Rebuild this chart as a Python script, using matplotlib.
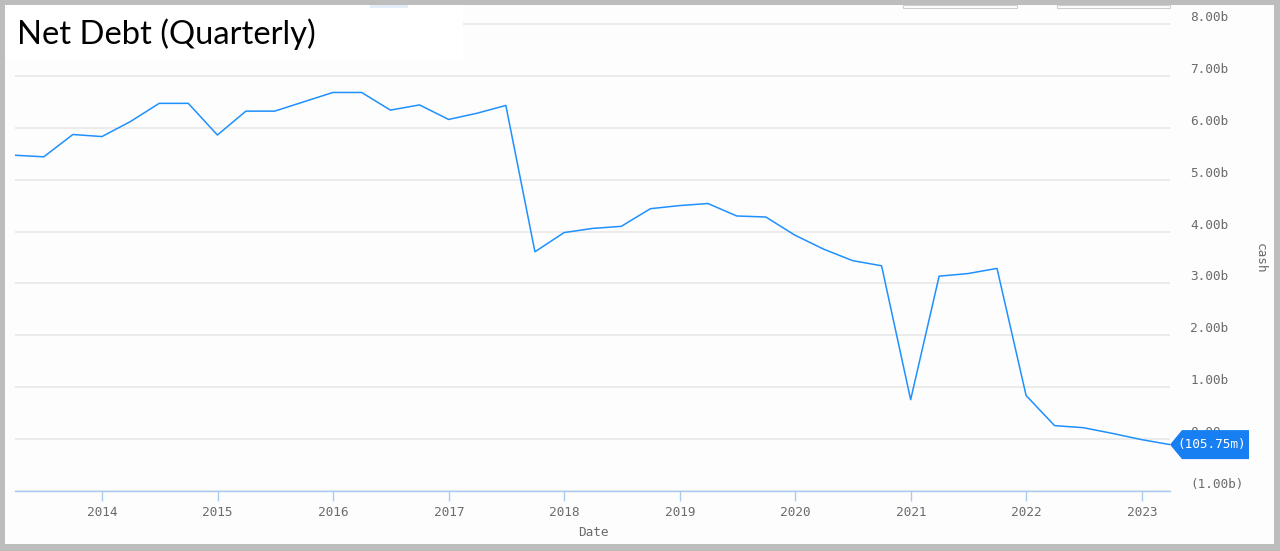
import numpy as np
import pandas as pd
import matplotlib
matplotlib.use('Agg')
import matplotlib.pyplot as plt
import matplotlib.dates as mdates
from matplotlib.patches import Rectangle, Polygon
from matplotlib.transforms import Affine2D, ScaledTranslation
from matplotlib.ticker import FuncFormatter

# quarterly net debt, billions
quarters = pd.period_range('2013Q1', '2023Q1', freq='Q').to_timestamp(how='end').normalize()
net_debt = [5.47, 5.44, 5.87, 5.83, 6.12, 6.47, 6.47, 5.86, 6.32, 6.32,
            6.50, 6.68, 6.68, 6.34, 6.44, 6.16, 6.28, 6.43, 3.61, 3.98,
            4.06, 4.10, 4.44, 4.50, 4.54, 4.30, 4.28, 3.93, 3.66, 3.44,
            3.34, 0.76, 3.14, 3.19, 3.29, 0.84, 0.26, 0.22, 0.11, -0.01,
            -0.10575]
y_ticks = [-1, 0, 1, 2, 3, 4, 5, 6, 7, 8]
last_label = '(105.75m)'

W, H = 1280, 551
def fx(px):
    return px / W
def fy(py):
    return 1 - py / H

mono = 'DejaVu Sans Mono'
fs = 9.2
grey_txt = '#6b6b6b'
blue = '#1e90ff'
axis_blue = '#a9caf3'

fig = plt.figure(figsize=(W / 100, H / 100), dpi=100, facecolor='#bdbdbd')

# inner white panel
fig.patches.append(Rectangle((fx(5), fy(544)), fx(1274) - fx(5), fy(5) - fy(544),
                             transform=fig.transFigure, facecolor='#fdfdfd',
                             edgecolor='none', zorder=-1))

ax = fig.add_axes([fx(15), fy(491), fx(1170) - fx(15), fy(8.4) - fy(491)])
ax.set_facecolor('none')

ax.plot(quarters, net_debt, color=blue, lw=1.1, zorder=3)

ax.set_xlim(quarters[0], quarters[-1])
ax.set_ylim(-1, 8.3)

ax.set_yticks(y_ticks)
def fmt(v, pos):
    if abs(v) < 1e-9:
        return '0.00'
    if v < 0:
        return '({:.2f}b)'.format(-v)
    return '{:.2f}b'.format(v)
ax.yaxis.set_major_formatter(FuncFormatter(fmt))
ax.yaxis.tick_right()
ax.tick_params(axis='y', length=0, pad=14.5, labelsize=fs, labelcolor=grey_txt)
for t in ax.get_yticklabels():
    t.set_fontfamily(mono)
    t.set_verticalalignment('bottom')

ax.xaxis.set_major_locator(mdates.YearLocator())
ax.xaxis.set_major_formatter(mdates.DateFormatter('%Y'))
ax.tick_params(axis='x', length=7.5, width=1, color=axis_blue, pad=3,
               labelsize=fs, labelcolor=grey_txt)
for t in ax.get_xticklabels():
    t.set_fontfamily(mono)

ax.grid(axis='y', color='#e8e8e8', lw=1.2)
ax.grid(axis='x', visible=False)
for s in ['top', 'left', 'right']:
    ax.spines[s].set_visible(False)
ax.spines['bottom'].set_color(axis_blue)
ax.spines['bottom'].set_linewidth(1)

# last value marker
xl = mdates.date2num(quarters[-1])
yl = net_debt[-1]
tr = Affine2D() + ScaledTranslation(xl, yl, ax.transData)
tag = Polygon([(0, 0), (12, 14.5), (79, 14.5), (79, -14.5), (12, -14.5)],
              closed=True, transform=tr, facecolor='#177ff2', edgecolor='none',
              clip_on=False, zorder=6)
ax.add_patch(tag)
ax.annotate(last_label, (xl, yl), xytext=(41.5, 0), textcoords='offset pixels',
            ha='center', va='center', color='white', fontsize=fs, family=mono,
            zorder=7, annotation_clip=False)

fig.text(fx(593), fy(533), 'Date', ha='center', va='center', fontsize=fs,
         family=mono, color=grey_txt)
fig.text(fx(1260), fy(258), 'cash', ha='center', va='center', fontsize=fs,
         family=mono, color=grey_txt, rotation=270)

# title box
fig.patches.append(Rectangle((fx(5), fy(60)), fx(463) - fx(5), fy(5) - fy(60),
                             transform=fig.transFigure, facecolor='white',
                             edgecolor='none', zorder=2))
fig.text(fx(17), fy(44.5), 'Net Debt (Quarterly)', ha='left', va='baseline',
         fontsize=23.6, family='Lato', color='black', zorder=3)

# partial toolbar buttons at the top
for x0, x1 in [(903, 1017), (1057, 1170)]:
    fig.patches.append(Rectangle((fx(x0), fy(8)), fx(x1) - fx(x0), fy(5) - fy(8),
                                 transform=fig.transFigure, facecolor='white',
                                 edgecolor='#cfcfcf', lw=0.8, zorder=2))
fig.patches.append(Rectangle((fx(370), fy(8)), fx(408) - fx(370), fy(5) - fy(8),
                             transform=fig.transFigure, facecolor='#e4eefb',
                             edgecolor='none', zorder=2))

fig.savefig('out.png', dpi=100, facecolor=fig.get_facecolor())
